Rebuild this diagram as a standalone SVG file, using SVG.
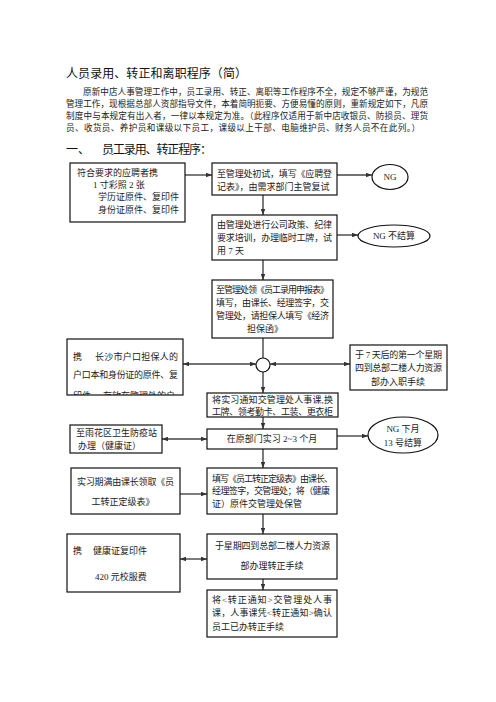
<svg xmlns="http://www.w3.org/2000/svg" width="496" height="702" viewBox="0 0 496 702">
<style>
text{font-family:"Liberation Serif","Noto Sans CJK SC",serif;fill:#222;}
.t{font-size:9px;}
.p{font-size:8.6px;}
.h{font-family:"Noto Sans CJK SC","Liberation Sans",sans-serif;font-size:12px;fill:#111;}
.box{fill:#fff;stroke:#111;stroke-width:1.2;}
.con line{stroke:#444;stroke-width:1.4;}
.ah{marker-end:url(#arr);}
.ab{marker-start:url(#arr);marker-end:url(#arr);}
</style>
<defs>
<marker id="arr" viewBox="0 0 8 6" refX="8" refY="3" markerWidth="6" markerHeight="4.5" markerUnits="userSpaceOnUse" orient="auto-start-reverse"><path d="M0,0L8,3L0,6z" fill="#333"/></marker>
<clipPath id="clipE"><rect x="67" y="339" width="116" height="56"/></clipPath>
</defs>
<rect width="496" height="702" fill="#fff"/>
<text class="h" x="66" y="78" textLength="181">人员录用、转正和离职程序（简）</text>
<text class="p" x="83" y="95" textLength="345">原新中店人事管理工作中，员工录用、转正、离职等工作程序不全，规定不够严谨，为规范</text>
<text class="p" x="66" y="107" textLength="362">管理工作，现根据总部人资部指导文件，本着简明扼要、方便易懂的原则，重新规定如下，凡原</text>
<text class="p" x="66" y="119" textLength="362">制度中与本规定有出入者，一律以本规定为准。（此程序仅适用于新中店收银员、防损员、理货</text>
<text class="p" x="66" y="131" textLength="354">员、收货员、养护员和课级以下员工，课级以上干部、电脑维护员、财务人员不在此列。）</text>
<text class="h" x="66" y="154">一、</text>
<text class="h" x="102" y="154" textLength="110">员工录用、转正程序：</text>

<g class="con">
<line class="ah" x1="185" y1="175" x2="212" y2="175"/>
<line class="ah" x1="337" y1="175" x2="372" y2="175"/>
<line class="ah" x1="263" y1="195" x2="263" y2="215"/>
<line class="ah" x1="337" y1="235" x2="358" y2="235"/>
<line class="ah" x1="263" y1="260" x2="263" y2="280"/>
<line x1="263" y1="338" x2="263" y2="358"/>
<line class="ab" x1="256" y1="364" x2="183" y2="364"/>
<line class="ab" x1="270" y1="364" x2="350" y2="364"/>
<line class="ah" x1="263" y1="372" x2="263" y2="393"/>
<line class="ah" x1="263" y1="417" x2="263" y2="429"/>
<line class="ab" x1="162" y1="439" x2="207" y2="439"/>
<line class="ah" x1="337" y1="436" x2="368" y2="436"/>
<line class="ah" x1="263" y1="449" x2="263" y2="468"/>
<line class="ah" x1="180" y1="494" x2="207" y2="494"/>
<line class="ah" x1="263" y1="514" x2="263" y2="534"/>
<line class="ab" x1="180" y1="559" x2="207" y2="559"/>
<line class="ah" x1="263" y1="579" x2="263" y2="590"/>
</g>

<g id="nodeA">
<rect class="box" x="70" y="163" width="115" height="59"/>
<text class="t" x="77" y="176">符合要求的应聘者携</text>
<text class="t" x="93" y="188">1 寸彩照 2 张</text>
<text class="t" x="98" y="200">学历证原件、复印件</text>
<text class="t" x="98" y="213">身份证原件、复印件</text>
</g>
<g id="nodeB">
<rect class="box" x="212" y="163" width="125" height="32"/>
<text class="t" x="217" y="177" textLength="115">至管理处初试，填写《应聘登</text>
<text class="t" x="217" y="190">记表》，由需求部门主管复试</text>
</g>
<g id="nodeNG1">
<ellipse cx="390" cy="177" rx="18" ry="12.5" fill="#fff" stroke="#111" stroke-width="1.2"/>
<text class="t" x="390" y="180" text-anchor="middle">NG</text>
</g>
<g id="nodeC">
<rect class="box" x="212" y="215" width="125" height="45"/>
<text class="t" x="217" y="228" textLength="115">由管理处进行公司政策、纪律</text>
<text class="t" x="217" y="241" textLength="115">要求培训，办理临时工牌，试</text>
<text class="t" x="217" y="254">用 7 天</text>
</g>
<g id="nodeNG2">
<ellipse cx="394" cy="236" rx="36" ry="11" fill="#fff" stroke="#111" stroke-width="1.2"/>
<text class="t" x="394" y="239" text-anchor="middle">NG 不结算</text>
</g>
<g id="nodeD">
<rect class="box" x="212" y="280" width="121" height="58"/>
<text class="t" x="216" y="293" textLength="113">至管理处领《员工录用申报表》</text>
<text class="t" x="216" y="306" textLength="113">填写，由课长、经理签字，交</text>
<text class="t" x="216" y="319" textLength="113">管理处，请担保人填写《经济</text>
<text class="t" x="265" y="332" text-anchor="middle">担保函》</text>
</g>
<g id="nodeCircle">
<circle cx="263" cy="365" r="7" fill="#fff" stroke="#111" stroke-width="1.2"/>
</g>
<g id="nodeE">
<rect class="box" x="67" y="339" width="116" height="56"/>
<text class="t" x="73" y="360">携</text>
<text class="t" x="95" y="360" textLength="83">长沙市户口担保人的</text>
<text class="t" x="73" y="378" textLength="105">户口本和身份证的原件、复</text>
<g clip-path="url(#clipE)">
<text class="t" x="73" y="399">印件，</text>
<text class="t" x="103" y="399" textLength="72">存放在管理处的户</text>
</g>
</g>
<g id="nodeF">
<rect class="box" x="350" y="345" width="97" height="45"/>
<text class="t" x="355" y="358" textLength="87">于 7 天后的第一个星期</text>
<text class="t" x="355" y="371" textLength="87">四到总部二楼人力资源</text>
<text class="t" x="398" y="385" text-anchor="middle">部办入职手续</text>
</g>
<g id="nodeG">
<rect class="box" x="207" y="393" width="131" height="24"/>
<text class="t" x="212" y="403" textLength="121">将实习通知交管理处人事课,换</text>
<text class="t" x="212" y="415" textLength="121">工牌、领考勤卡、工装、更衣柜</text>
</g>
<g id="nodeH">
<rect class="box" x="207" y="429" width="130" height="20"/>
<text class="t" x="272" y="442" text-anchor="middle">在原部门实习 2~3 个月</text>
</g>
<g id="nodeI">
<rect class="box" x="70" y="425" width="92" height="28"/>
<text class="t" x="76" y="436">至雨花区卫生防疫站</text>
<text class="t" x="78" y="449">办理（健康证）</text>
</g>
<g id="nodeNG3">
<ellipse cx="403" cy="435" rx="35" ry="18" fill="#fff" stroke="#111" stroke-width="1.2"/>
<text class="t" x="403" y="432" text-anchor="middle">NG 下月</text>
<text class="t" x="403" y="446" text-anchor="middle">13 号结算</text>
</g>
<g id="nodeJ">
<rect class="box" x="207" y="468" width="130" height="46"/>
<text class="t" x="212" y="482" textLength="121">填写《员工转正定级表》由课长、</text>
<text class="t" x="212" y="494" textLength="118">经理签字，交管理处；将（健康</text>
<text class="t" x="212" y="507">证）原件交管理处保管</text>
</g>
<g id="nodeK">
<rect class="box" x="71" y="468" width="109" height="46"/>
<text class="t" x="77" y="485" textLength="97">实习期满由课长领取《员</text>
<text class="t" x="123" y="505" text-anchor="middle">工转正定级表》</text>
</g>
<g id="nodeL">
<rect class="box" x="207" y="534" width="130" height="45"/>
<text class="t" x="215" y="549" textLength="115">于星期四到总部二楼人力资源</text>
<text class="t" x="272" y="569" text-anchor="middle">部办理转正手续</text>
</g>
<g id="nodeM">
<rect class="box" x="67" y="534" width="113" height="58"/>
<text class="t" x="73" y="554">携</text>
<text class="t" x="93" y="554">健康证复印件</text>
<text class="t" x="95" y="580">420 元校服费</text>
</g>
<g id="nodeN">
<rect class="box" x="207" y="590" width="130" height="47"/>
<text class="t" x="212" y="603" textLength="120">将&lt;转正通知&gt;交管理处人事</text>
<text class="t" x="212" y="616" textLength="120">课，人事课凭&lt;转正通知&gt;确认</text>
<text class="t" x="212" y="630">员工已办转正手续</text>
</g>
</svg>
